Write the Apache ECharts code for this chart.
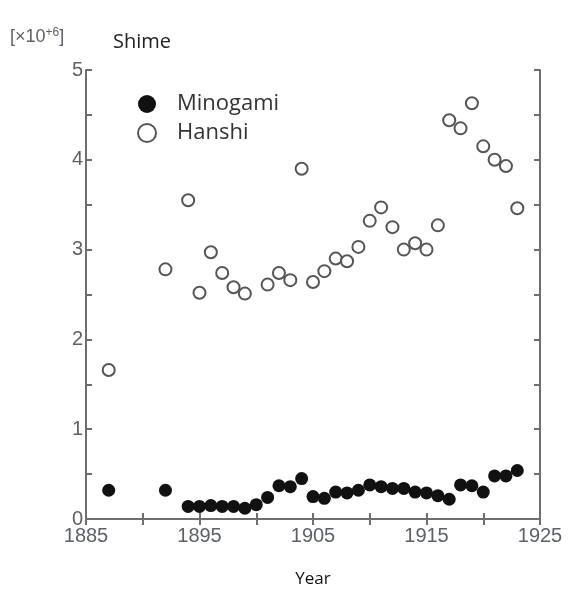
<!DOCTYPE html>
<html>
<head>
<meta charset="utf-8">
<script src="https://cdn.jsdelivr.net/npm/echarts@6/dist/echarts.min.js"></script>
<style>html,body{margin:0;padding:0;background:#fff}#c{width:568px;height:590px}</style>
</head>
<body>
<div id="c"></div>
<script>
var minogamiYears = [1887,1892,1894,1895,1896,1897,1898,1899,1900,1901,1902,1903,1904,1905,1906,1907,1908,1909,1910,1911,1912,1913,1914,1915,1916,1917,1918,1919,1920,1921,1922,1923];
var minogamiValues = [0.32,0.32,0.14,0.14,0.15,0.14,0.14,0.12,0.16,0.24,0.37,0.36,0.45,0.25,0.23,0.30,0.29,0.32,0.38,0.36,0.34,0.34,0.30,0.29,0.26,0.22,0.38,0.37,0.30,0.48,0.48,0.54];
var hanshiYears = [1887,1892,1894,1895,1896,1897,1898,1899,1901,1902,1903,1904,1905,1906,1907,1908,1909,1910,1911,1912,1913,1914,1915,1916,1917,1918,1919,1920,1921,1922,1923];
var hanshiValues = [1.66,2.78,3.55,2.52,2.97,2.74,2.58,2.51,2.61,2.74,2.66,3.90,2.64,2.76,2.90,2.87,3.03,3.32,3.47,3.25,3.00,3.07,3.00,3.27,4.44,4.35,4.63,4.15,4.00,3.93,3.46];
var xTickLabels = ['1885','1895','1905','1915','1925'];
var yTickLabels = ['0','1','2','3','4','5'];

function pairs(xs, ys){ return xs.map(function(x,i){return [x, ys[i]];}); }

var axisColor = '#6e6e6e';
var labelColor = '#5c6068';
var chart = echarts.init(document.getElementById('c'));
var commonLine = {show:true, lineStyle:{color:axisColor, width:2}};
var commonTick = {show:true, inside:true, length:6, lineStyle:{color:axisColor, width:2}};
chart.setOption({
  animation:false,
  grid:{left:86, right:28, top:70, bottom:71, outerBoundsMode:'none', containLabel:false},
  graphic:[
    {type:'text', left:10, top:27, style:{
      text:'[×10{s|+6}]', fill:'#5c6068', font:'18px "Liberation Sans", Arial',
      rich:{s:{fontSize:12, verticalAlign:'top', padding:[0,0,9,0], fill:'#5c6068'}}
    }},
    {type:'text', left:113, top:32, style:{text:'Shime', fill:'#222', font:'20px "Open Sans", sans-serif'}}
  ],
  legend:{
    orient:'vertical', left:132, top:88, itemGap:7, itemWidth:18, itemHeight:18,
    textStyle:{fontSize:22, color:'#333', fontFamily:'"Open Sans", sans-serif', padding:[0,0,0,16]},
    data:['Minogami','Hanshi']
  },
  xAxis:[
    {type:'value', min:1885, max:1925, interval:5, position:'bottom',
     name:'Year', nameLocation:'middle', nameGap:52,
     nameTextStyle:{color:'#111', fontSize:17, fontFamily:'"Open Sans", sans-serif'},
     axisLine:commonLine, axisTick:commonTick, splitLine:{show:false},
     axisLabel:{color:labelColor, fontSize:20, fontFamily:'"Liberation Sans", Arial', margin:7,
       formatter:function(v){ var s=String(v); return xTickLabels.indexOf(s)>=0 ? s : ''; }}
    },
    {type:'value', min:1885, max:1925, interval:5, position:'top',
     axisLine:commonLine, axisTick:commonTick, splitLine:{show:false}, axisLabel:{show:false}}
  ],
  yAxis:[
    {type:'value', min:0, max:5, interval:0.5, position:'left',
     axisLine:commonLine, axisTick:commonTick, splitLine:{show:false},
     axisLabel:{color:labelColor, fontSize:20, fontFamily:'"Liberation Sans", Arial', margin:3,
       formatter:function(v){ var s=String(v); return yTickLabels.indexOf(s)>=0 ? s : ''; }}
    },
    {type:'value', min:0, max:5, interval:0.5, position:'right',
     axisLine:commonLine, axisTick:commonTick, splitLine:{show:false}, axisLabel:{show:false}}
  ],
  series:[
    {name:'Minogami', type:'scatter', xAxisIndex:0, yAxisIndex:0, symbol:'circle', symbolSize:13,
     itemStyle:{color:'#111', opacity:1},
     data:pairs(minogamiYears, minogamiValues)},
    {name:'Hanshi', type:'scatter', xAxisIndex:0, yAxisIndex:0, symbol:'circle', symbolSize:12,
     itemStyle:{color:'#fff', borderColor:'#555', borderWidth:2, opacity:1},
     data:pairs(hanshiYears, hanshiValues)}
  ]
});
</script>
</body>
</html>
